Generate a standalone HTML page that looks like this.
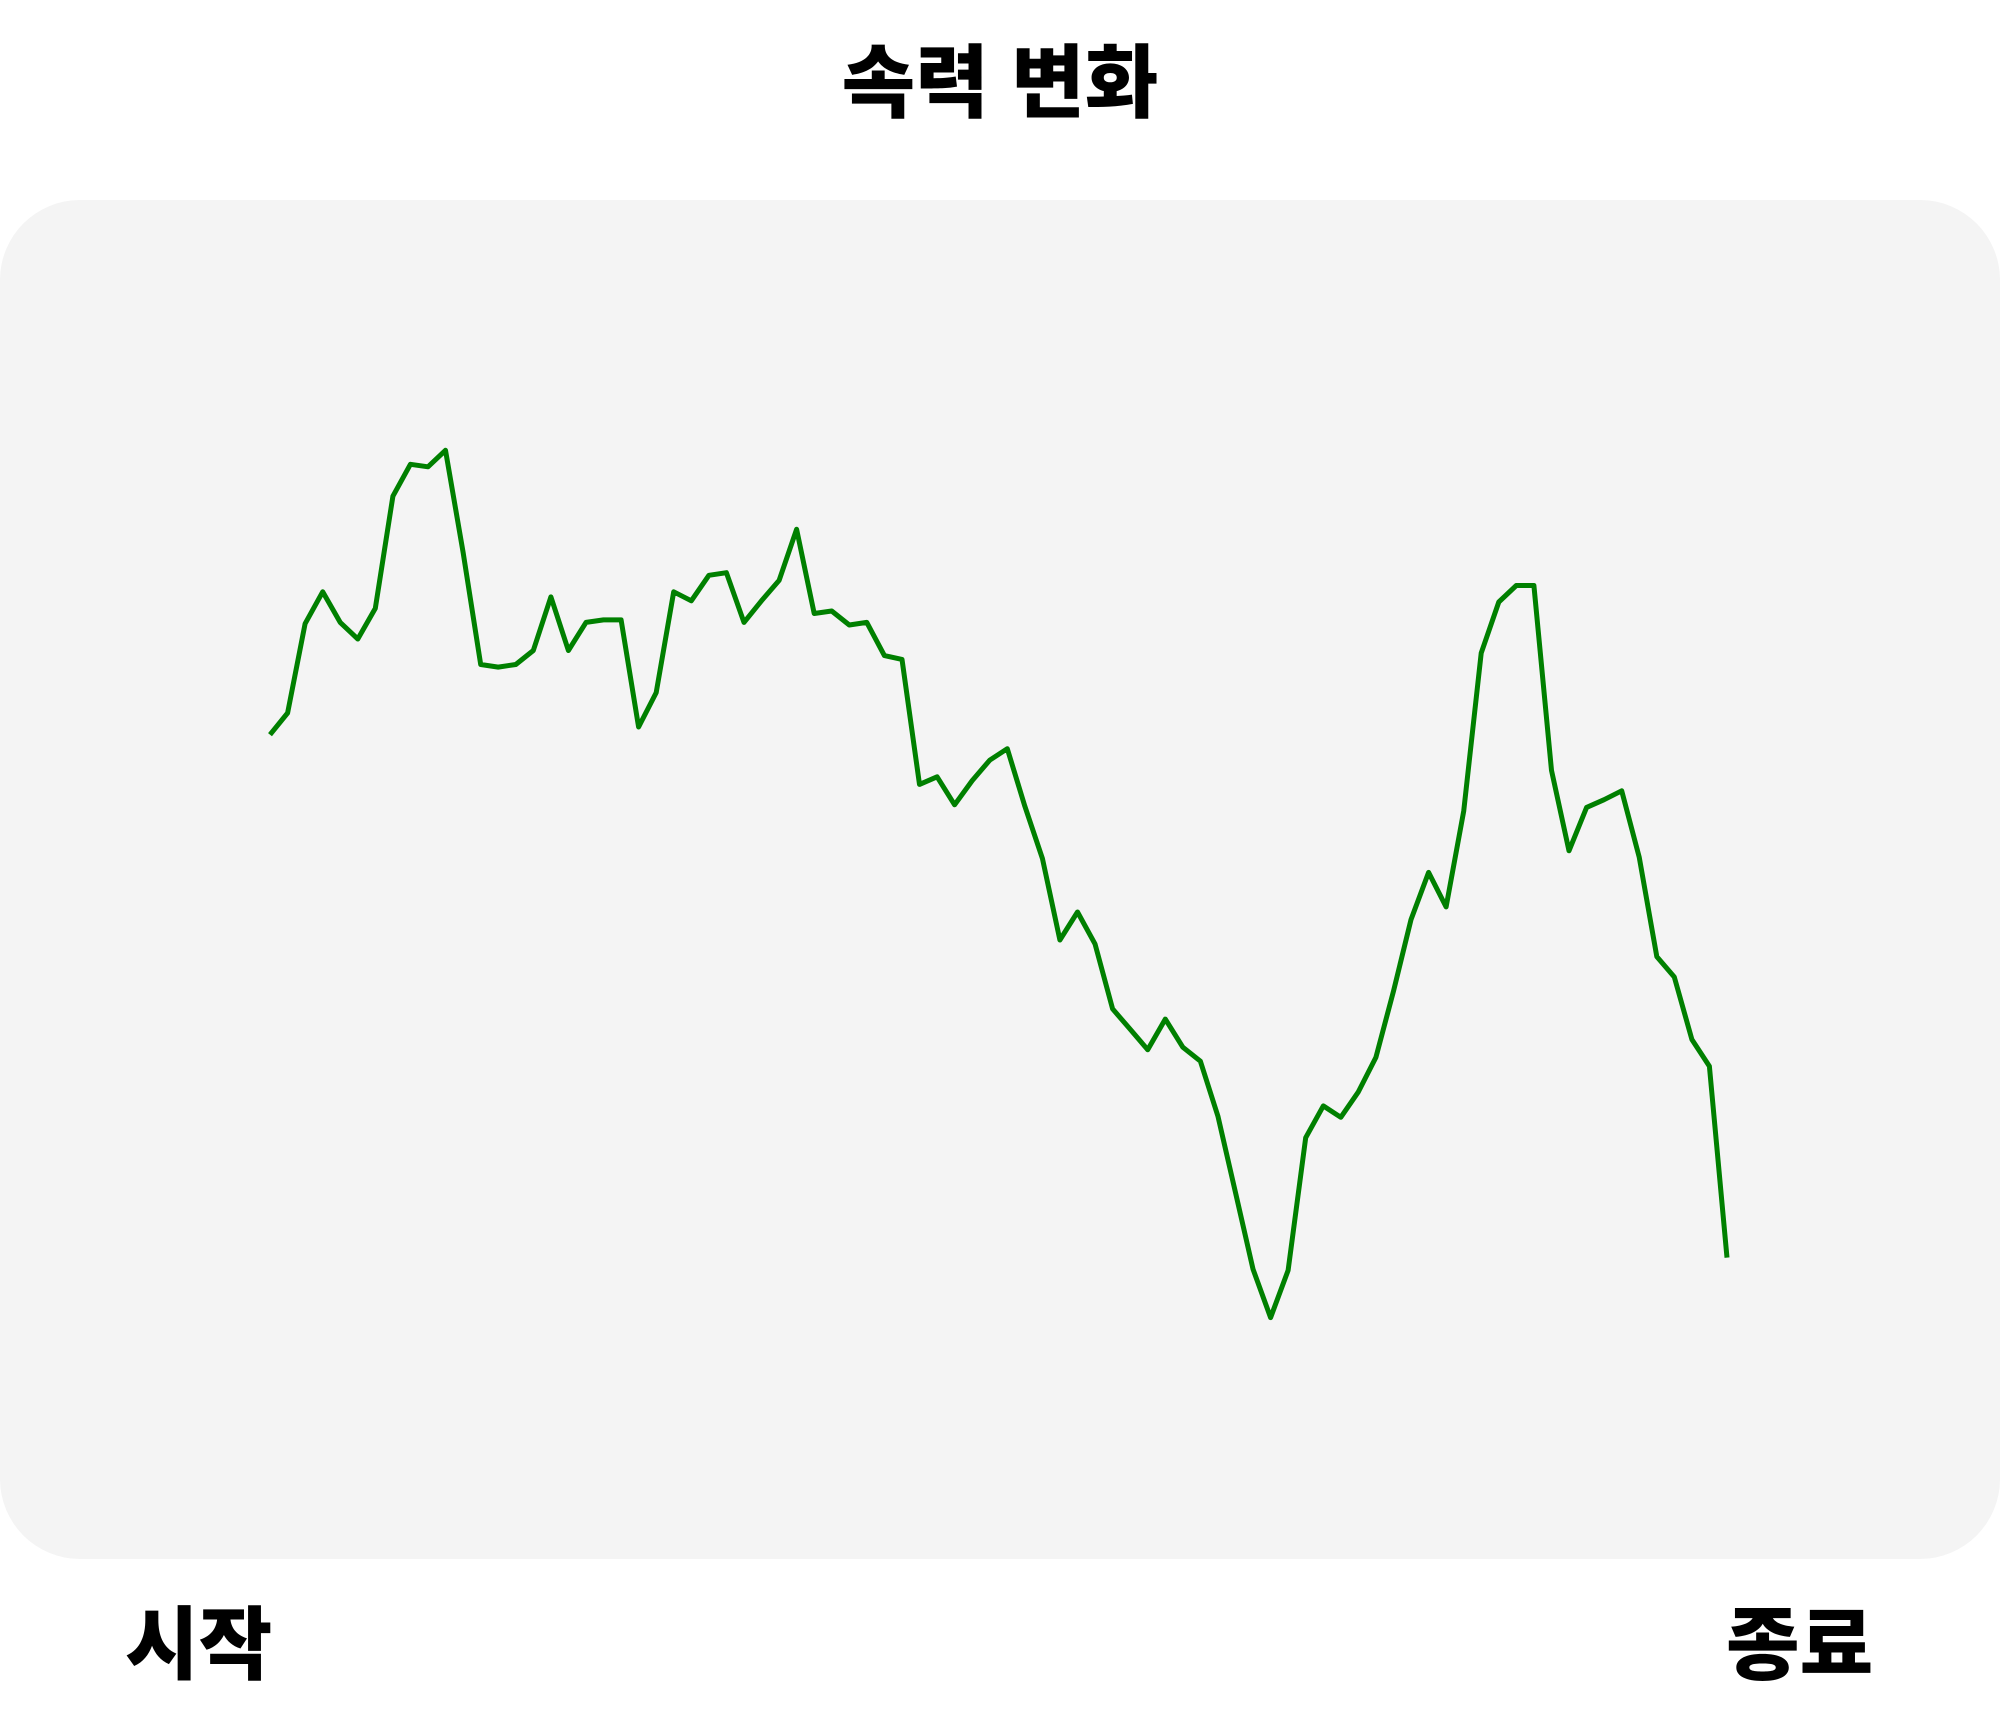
<!DOCTYPE html>
<html><head><meta charset="utf-8"><style>
html,body{margin:0;padding:0;background:#fff;}
body{width:2000px;height:1720px;position:relative;overflow:hidden;font-family:"Liberation Sans","Noto Sans CJK KR",sans-serif;}
.t{position:absolute;font-weight:900;font-size:80px;color:#000;line-height:1;}
#panel{position:absolute;left:0;top:200px;width:2000px;height:1359px;background:#f4f4f4;border-radius:80px;}
svg{position:absolute;left:0;top:0;}
</style></head><body>
<div class="t" style="left:0;width:2000px;text-align:center;top:44px;">속력 변화</div>
<div id="panel"></div>
<svg id="chart" width="2000" height="1720"></svg>
<div class="t" style="left:125px;top:1606px;">시작</div>
<div class="t" style="left:1726px;top:1606px;">종료</div>
<script>
const speeds = [772,789,859,884,860,847,871,959,984,982,995,915,827,825,827,838,880,838,860,862,862,778,805,884,877,897,899,860,877,893,933,867,869,858,860,834,831,733,739,717,736,752,761,716,675,611,633,608,557,541,525,549,527,516,473,413,353,315,352,456,481,472,492,519,571,627,664,637,712,836,876,889,889,744,681,715,721,728,676,598,582,533,512,362];
const xStart = 270, xEnd = 1727;
function xScale(i){ return xStart + (xEnd - xStart) * i / (speeds.length - 1); }
function yScale(v){ return (1348 - v) * 1.2755; }
const svg = document.getElementById('chart');
const pts = speeds.map((v,i)=>xScale(i).toFixed(1)+','+yScale(v).toFixed(1)).join(' ');
const pl = document.createElementNS('http://www.w3.org/2000/svg','polyline');
pl.setAttribute('points', pts);
pl.setAttribute('fill','none');
pl.setAttribute('stroke','#008000');
pl.setAttribute('stroke-width','5');
pl.setAttribute('stroke-linejoin','round');


svg.appendChild(pl);
</script>
</body></html>
